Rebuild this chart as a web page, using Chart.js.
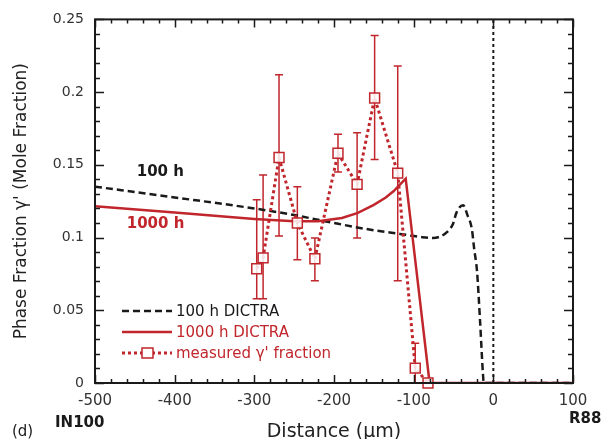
<!DOCTYPE html>
<html>
<head>
<meta charset="utf-8">
<script src="https://cdn.jsdelivr.net/npm/chart.js@4.4.0/dist/chart.umd.min.js"></script>
<style>
  html, body { margin: 0; padding: 0; background: #fff; }
</style>
</head>
<body>
<canvas id="chart" width="601" height="439"></canvas>
<script>
// axes
const xTicks = [-500, -400, -300, -200, -100, 0, 100];
const xTickLabels = ['-500', '-400', '-300', '-200', '-100', '0', '100'];
const yTicks = [0, 0.05, 0.1, 0.15, 0.2, 0.25];
const yTickLabels = ['0', '0.05', '0.1', '0.15', '0.2', '0.25'];

// 100 h DICTRA
const dictra100X = [-500, -400, -300, -250, -200, -150, -117, -90, -76, -61, -51, -46, -38, -32, -27, -24, -20.5, -16.7, -13, -12, 100];
const dictra100Y = [0.135, 0.1276, 0.120, 0.1155, 0.110, 0.105, 0.1025, 0.1003, 0.0997, 0.1025, 0.109, 0.1175, 0.1223, 0.1147, 0.106, 0.092, 0.077, 0.043, 0.006, 0, 0];

// 1000 h DICTRA
const dictra1000X = [-500, -400, -300, -250, -220, -190, -170, -150, -135, -125, -117, -110, -80, 100];
const dictra1000Y = [0.1216, 0.1172, 0.1128, 0.1112, 0.1112, 0.1135, 0.117, 0.1225, 0.1275, 0.132, 0.1365, 0.1405, 0, 0];

// measured gamma' fraction with error bars
const measX = [-297, -289, -269, -246, -224, -195, -171, -149, -120, -98, -82];
const measY = [0.0786, 0.086, 0.155, 0.110, 0.0854, 0.158, 0.1366, 0.196, 0.1443, 0.0102, 0];
const errLow = [0.058, 0.058, 0.101, 0.0847, 0.0703, 0.145, 0.0997, 0.1537, 0.0703, 0, null];
const errHigh = [0.126, 0.143, 0.212, 0.135, 0.0997, 0.171, 0.172, 0.239, 0.218, 0.0273, null];

// interface line
const interfaceX = [0, 0];
const interfaceY = [0, 0.25];

const RED = '#c0262c';
const BLACK = '#1a1a1a';
const FONT = "'DejaVu Sans', sans-serif";

function toPoints(xs, ys) {
    return xs.map((x, i) => ({ x: x, y: ys[i] }));
}

// cadre, graduations internes, barres d'erreur, légende et annotations
const extrasPlugin = {
    id: 'extras',
    beforeDatasetsDraw(chart) {
        const ctx = chart.ctx;
        const xs = chart.scales.x, ys = chart.scales.y;
        ctx.save();
        ctx.strokeStyle = RED;
        ctx.lineWidth = 1.5;
        measX.forEach((x, i) => {
            if (errLow[i] === null) return;
            const px = xs.getPixelForValue(x);
            const top = ys.getPixelForValue(errHigh[i]);
            const bot = ys.getPixelForValue(errLow[i]);
            ctx.beginPath();
            ctx.moveTo(px, top); ctx.lineTo(px, bot);
            ctx.moveTo(px - 4, top); ctx.lineTo(px + 4, top);
            ctx.moveTo(px - 4, bot); ctx.lineTo(px + 4, bot);
            ctx.stroke();
        });
        ctx.restore();
    },
    afterDraw(chart) {
        const ctx = chart.ctx;
        const a = chart.chartArea;
        const xs = chart.scales.x, ys = chart.scales.y;
        ctx.save();

        // ticks vers l'intérieur
        ctx.strokeStyle = BLACK;
        ctx.lineWidth = 1.5;
        ctx.beginPath();
        for (let v = -500; v <= 100; v += 20) {
            const px = Math.round(xs.getPixelForValue(v)) + 0.5;
            const len = v % 100 === 0 ? 8 : 4;
            ctx.moveTo(px, a.bottom); ctx.lineTo(px, a.bottom - len);
            ctx.moveTo(px, a.top); ctx.lineTo(px, a.top + len);
        }
        for (let i = 0; i <= 25; i++) {
            const py = Math.round(ys.getPixelForValue(i / 100)) + 0.5;
            const len = i % 5 === 0 ? 9 : 5;
            ctx.moveTo(a.left, py); ctx.lineTo(a.left + len, py);
            ctx.moveTo(a.right, py); ctx.lineTo(a.right - len, py);
        }
        ctx.stroke();

        // cadre
        ctx.lineWidth = 2;
        ctx.strokeRect(a.left, a.top, a.right - a.left, a.bottom - a.top);

        // légende
        const rows = [
            { ds: chart.data.datasets[0], y: 311, color: BLACK },
            { ds: chart.data.datasets[1], y: 332, color: RED },
            { ds: chart.data.datasets[2], y: 353, color: RED }
        ];
        ctx.font = '15px ' + FONT;
        ctx.textBaseline = 'middle';
        rows.forEach(r => {
            ctx.save();
            ctx.strokeStyle = r.ds.borderColor;
            ctx.lineWidth = r.ds.borderWidth;
            ctx.setLineDash(r.ds.borderDash || []);
            ctx.beginPath();
            ctx.moveTo(122, r.y); ctx.lineTo(172, r.y);
            ctx.stroke();
            ctx.restore();
            if (r.ds.pointStyle === 'rect') {
                ctx.save();
                ctx.fillStyle = '#fff';
                ctx.strokeStyle = RED;
                ctx.lineWidth = 1.5;
                ctx.fillRect(142, r.y - 5, 11, 10);
                ctx.strokeRect(142, r.y - 5, 11, 10);
                ctx.restore();
            }
            ctx.fillStyle = r.color;
            ctx.textAlign = 'left';
            ctx.fillText(r.ds.label, 176, r.y + 1);
        });

        // annotations
        ctx.font = 'bold 15px ' + FONT;
        ctx.textAlign = 'center';
        ctx.fillStyle = BLACK;
        ctx.fillText('100 h', xs.getPixelForValue(-418), ys.getPixelForValue(0.1448));
        ctx.fillStyle = RED;
        ctx.fillText('1000 h', xs.getPixelForValue(-424), ys.getPixelForValue(0.1093));

        ctx.fillStyle = BLACK;
        ctx.textAlign = 'left';
        ctx.fillText('IN100', 55, 423);
        ctx.fillText('R88', 569, 419);
        ctx.font = '15px ' + FONT;
        ctx.fillText('(d)', 12, 432);
        ctx.restore();
    }
};

const chart = new Chart(document.getElementById('chart'), {
    type: 'scatter',
    data: {
        datasets: [
            {
                label: '100 h DICTRA',
                data: toPoints(dictra100X, dictra100Y),
                showLine: true,
                borderColor: BLACK,
                borderWidth: 2.5,
                borderDash: [7, 4],
                pointRadius: 0,
                cubicInterpolationMode: 'monotone',
                order: 3
            },
            {
                label: '1000 h DICTRA',
                data: toPoints(dictra1000X, dictra1000Y),
                showLine: true,
                borderColor: RED,
                borderWidth: 2.5,
                pointRadius: 0,
                tension: 0,
                order: 2
            },
            {
                label: "measured γ' fraction",
                data: toPoints(measX, measY),
                showLine: true,
                borderColor: RED,
                borderWidth: 3,
                borderDash: [3, 3],
                pointStyle: 'rect',
                pointRadius: 7,
                pointBorderWidth: 1.5,
                pointBorderColor: RED,
                pointBackgroundColor: 'rgba(255,255,255,0.85)',
                clip: false,
                order: 1
            },
            {
                label: 'interface',
                data: toPoints(interfaceX, interfaceY),
                showLine: true,
                borderColor: BLACK,
                borderWidth: 2,
                borderDash: [3, 3],
                pointRadius: 0,
                order: 4
            }
        ]
    },
    options: {
        responsive: false,
        animation: false,
        devicePixelRatio: 1,
        layout: { padding: { left: 6, right: 28, top: 17, bottom: 0 } },
        plugins: {
            legend: { display: false },
            tooltip: { enabled: false }
        },
        scales: {
            x: {
                type: 'linear',
                min: -500,
                max: 100,
                afterFit: s => { s.height = 56; },
                afterBuildTicks: s => { s.ticks = xTicks.map(v => ({ value: v })); },
                grid: { display: false, drawTicks: false },
                border: { display: false },
                ticks: {
                    padding: 9,
                    maxRotation: 0,
                    color: '#333',
                    font: { family: FONT, size: 15 },
                    callback: v => xTickLabels[xTicks.indexOf(v)]
                },
                title: {
                    display: true,
                    text: 'Distance (μm)',
                    color: '#222',
                    font: { family: FONT, size: 19 },
                    padding: { top: 0, bottom: -4 }
                }
            },
            y: {
                type: 'linear',
                min: 0,
                max: 0.25,
                afterFit: s => { s.width = 89; },
                afterBuildTicks: s => { s.ticks = yTicks.map(v => ({ value: v })); },
                grid: { display: false, drawTicks: false },
                border: { display: false },
                ticks: {
                    padding: 11,
                    color: '#333',
                    font: { family: FONT, size: 14 },
                    callback: v => yTickLabels[yTicks.indexOf(v)]
                },
                title: {
                    display: true,
                    text: "Phase Fraction γ' (Mole Fraction)",
                    color: '#222',
                    font: { family: FONT, size: 17 },
                    padding: { top: 5, bottom: 0 }
                }
            }
        }
    },
    plugins: [extrasPlugin]
});
</script>
</body>
</html>
